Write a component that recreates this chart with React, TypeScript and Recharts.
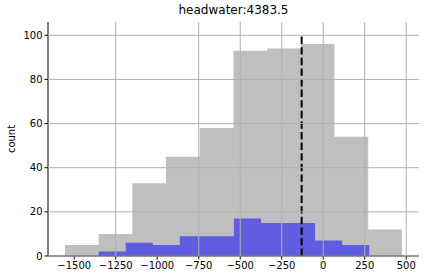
import { ComposedChart, Area, XAxis, YAxis, CartesianGrid, ReferenceLine } from 'recharts'

// histogram bin edges and counts
const allEdges = [-1556, -1353, -1150, -947, -744, -541, -338, -135, 68, 271, 474]
const allCounts = [5, 10, 33, 45, 58, 93, 94, 96, 54, 12]
const subEdges = [-1353, -1190, -1027, -864, -701, -538, -375, -212, -49, 114, 277]
const subCounts = [2, 6, 5, 9, 9, 17, 15, 15, 7, 5]
const xTicks = [-1500, -1250, -1000, -750, -500, -250, 0, 250, 500]
const yTicks = [0, 20, 40, 60, 80, 100]
const markerX = -130
const markerTop = 100
const title = 'headwater:4383.5'

const toSteps = (edges: number[], counts: number[]) =>
    edges.map((e, i) => ({ x: e, y: counts[Math.min(i, counts.length - 1)] }))

const allData = toSteps(allEdges, allCounts)
const subData = toSteps(subEdges, subCounts)

const font = 'DejaVu Sans, sans-serif'
const minus = (v: number) => String(v).replace('-', '\u2212')

export default function App() {
    return (
        <div style={{ position: 'absolute', left: 0, top: 0, width: 424, height: 280, background: '#fff', fontFamily: font }}>
            <div style={{ position: 'absolute', left: 48, width: 371, top: 3, textAlign: 'center', fontSize: 12, color: '#000' }}>
                {title}
            </div>
            <ComposedChart width={424} height={280} margin={{ top: 22, right: 5, bottom: 0, left: 0 }}>
                <XAxis
                    type="number"
                    dataKey="x"
                    domain={[-1658, 577]}
                    ticks={xTicks}
                    allowDataOverflow
                    height={24}
                    tickFormatter={minus}
                    tick={{ fill: '#000', fontSize: 10, fontFamily: font }}
                    tickSize={3.5}
                    tickLine={{ stroke: '#000' }}
                    axisLine={{ stroke: '#000' }}
                />
                <XAxis xAxisId="top" orientation="top" type="number" domain={[-1658, 577]} height={0} tick={false} tickLine={false} axisLine={{ stroke: '#000' }} />
                <YAxis
                    type="number"
                    domain={[0, 106]}
                    ticks={yTicks}
                    allowDataOverflow
                    width={48}
                    tick={{ fill: '#000', fontSize: 10, fontFamily: font }}
                    tickSize={3.5}
                    tickLine={{ stroke: '#000' }}
                    axisLine={{ stroke: '#000' }}
                    label={{ value: 'count', angle: -90, position: 'insideLeft', offset: 11, style: { fill: '#000', fontSize: 10, fontFamily: font, textAnchor: 'middle' } }}
                />
                <YAxis yAxisId="right" orientation="right" domain={[0, 106]} width={0} tick={false} tickLine={false} axisLine={{ stroke: '#000' }} />
                <Area data={allData} dataKey="y" type="stepAfter" stroke="none" fill="#bfbfbf" fillOpacity={1} isAnimationActive={false} dot={false} activeDot={false} />
                <Area data={subData} dataKey="y" type="stepAfter" stroke="none" fill="#5f5ee0" fillOpacity={1} isAnimationActive={false} dot={false} activeDot={false} />
                <CartesianGrid stroke="#b0b0b0" strokeWidth={1} horizontalValues={yTicks} verticalValues={xTicks} zIndex={500} />
                <ReferenceLine segment={[{ x: markerX, y: 0 }, { x: markerX, y: markerTop }]} stroke="#000" strokeWidth={2} strokeDasharray="7.4 3.2" />
            </ComposedChart>
        </div>
    )
}
